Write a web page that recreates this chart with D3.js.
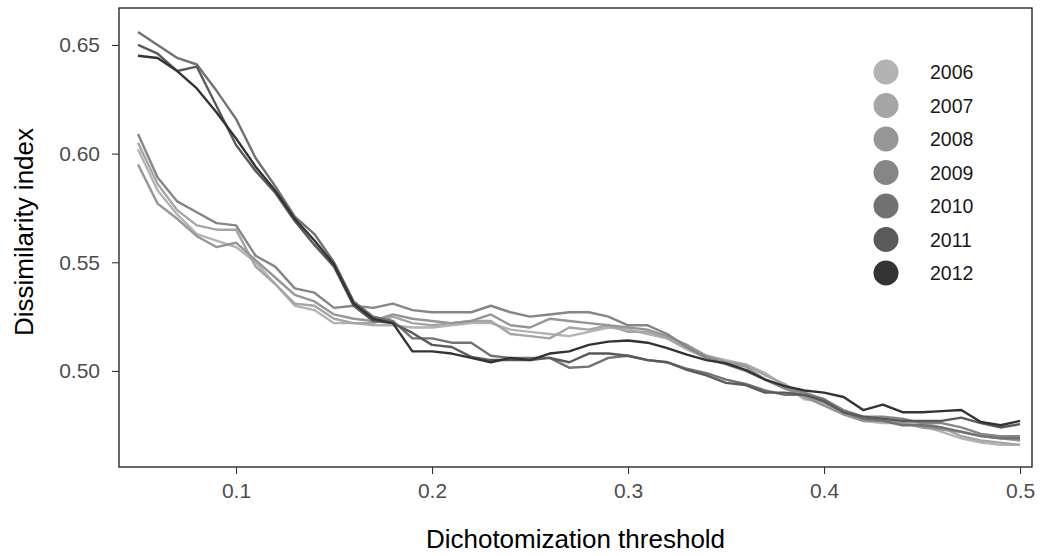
<!DOCTYPE html>
<html>
<head>
<meta charset="utf-8">
<script src="https://cdn.jsdelivr.net/npm/d3@7"></script>
<style>
  body { margin: 0; background: #fff; }
  text { font-family: "Liberation Sans", Arial, sans-serif; }
</style>
</head>
<body>
<svg id="chart" width="1043" height="556"></svg>
<script>
// thresholds 0.05 .. 0.50
const thresholds = d3.range(46).map(i => +(0.05 + i * 0.01).toFixed(2));

const years = ["2006", "2007", "2008", "2009", "2010", "2011", "2012"];
const colors = ["#b3b3b3", "#a5a5a5", "#969696", "#868686", "#727272", "#5a5a5a", "#333333"];

const y2006 = [0.602,0.583,0.572,0.563,0.560,0.557,0.550,0.540,0.530,0.528,0.522,0.522,0.521,0.521,0.520,0.520,0.521,0.522,0.522,0.519,0.518,0.517,0.516,0.518,0.520,0.519,0.517,0.515,0.511,0.507,0.505,0.503,0.499,0.493,0.487,0.486,0.480,0.477,0.476,0.476,0.475,0.472,0.469,0.467,0.466,0.466];
const y2007 = [0.605,0.586,0.574,0.567,0.565,0.565,0.548,0.540,0.531,0.530,0.524,0.522,0.522,0.525,0.522,0.521,0.522,0.523,0.523,0.517,0.516,0.515,0.520,0.519,0.521,0.518,0.518,0.515,0.510,0.506,0.504,0.503,0.498,0.494,0.488,0.485,0.481,0.478,0.477,0.477,0.476,0.474,0.470,0.468,0.467,0.466];
const y2008 = [0.595,0.577,0.570,0.562,0.557,0.559,0.551,0.543,0.535,0.532,0.526,0.524,0.523,0.526,0.524,0.523,0.522,0.523,0.526,0.521,0.520,0.524,0.523,0.522,0.521,0.520,0.519,0.516,0.512,0.507,0.504,0.502,0.496,0.492,0.488,0.484,0.480,0.477,0.477,0.476,0.474,0.473,0.472,0.470,0.469,0.468];
const y2009 = [0.609,0.589,0.578,0.573,0.568,0.567,0.553,0.548,0.538,0.536,0.529,0.530,0.529,0.531,0.528,0.527,0.527,0.527,0.530,0.527,0.525,0.526,0.527,0.527,0.525,0.521,0.521,0.517,0.511,0.506,0.503,0.500,0.496,0.492,0.490,0.487,0.482,0.479,0.479,0.478,0.476,0.476,0.474,0.471,0.470,0.470];
const y2010 = [0.656,0.650,0.644,0.641,0.629,0.616,0.598,0.585,0.571,0.563,0.550,0.532,0.525,0.523,0.515,0.515,0.513,0.513,0.507,0.506,0.506,0.506,0.5015,0.502,0.506,0.507,0.505,0.504,0.501,0.499,0.496,0.494,0.491,0.489,0.489,0.487,0.481,0.478,0.477,0.475,0.475,0.474,0.472,0.470,0.469,0.469];
const y2011 = [0.650,0.646,0.638,0.640,0.622,0.604,0.592,0.582,0.569,0.558,0.548,0.530,0.523,0.522,0.5175,0.512,0.511,0.5065,0.505,0.505,0.505,0.506,0.504,0.508,0.508,0.507,0.505,0.504,0.5005,0.498,0.4945,0.4935,0.490,0.490,0.489,0.486,0.481,0.479,0.478,0.477,0.477,0.477,0.4785,0.476,0.474,0.4755];
const y2012 = [0.645,0.644,0.638,0.630,0.619,0.607,0.594,0.583,0.570,0.560,0.549,0.531,0.524,0.522,0.509,0.509,0.508,0.506,0.504,0.506,0.505,0.508,0.509,0.512,0.5135,0.514,0.513,0.5105,0.5075,0.505,0.5035,0.5005,0.496,0.493,0.491,0.490,0.488,0.482,0.4845,0.481,0.481,0.4815,0.482,0.4765,0.475,0.477];

const seriesValues = [y2006, y2007, y2008, y2009, y2010, y2011, y2012];
const xTicks = [0.1, 0.2, 0.3, 0.4, 0.5];
const yTicks = [0.50, 0.55, 0.60, 0.65];

const svg = d3.select("#chart");
const panel = {left: 119, right: 1032, top: 8, bottom: 467};

let x = d3.scaleLinear().domain([0.0403, 0.5061]).range([panel.left, panel.right]);
let y = d3.scaleLinear().domain([0.4558, 0.6670]).range([panel.bottom, panel.top]);

// lines
let line = d3.line()
    .x((d, i) => x(thresholds[i]))
    .y(d => y(d));

svg.append("g")
    .selectAll("path")
    .data(seriesValues)
    .enter()
    .append("path")
    .attr("d", d => line(d))
    .attr("fill", "none")
    .attr("stroke", (d, i) => colors[i])
    .attr("stroke-width", 2.4)
    .attr("stroke-linejoin", "round");

// panel border
svg.append("rect")
    .attr("x", panel.left)
    .attr("y", panel.top)
    .attr("width", panel.right - panel.left)
    .attr("height", panel.bottom - panel.top)
    .attr("fill", "none")
    .attr("stroke", "#1a1a1a")
    .attr("stroke-width", 1.3);

// axes
let xAxis = svg.append("g")
    .attr("transform", "translate(0," + panel.bottom + ")")
    .call(d3.axisBottom(x).tickValues(xTicks).tickSize(7).tickPadding(9).tickFormat(d3.format(".1f")));
let yAxis = svg.append("g")
    .attr("transform", "translate(" + panel.left + ",0)")
    .call(d3.axisLeft(y).tickValues(yTicks).tickSize(7).tickPadding(12).tickFormat(d3.format(".2f")));

[xAxis, yAxis].forEach(function(a){
    a.select(".domain").remove();
    a.selectAll(".tick line").attr("stroke", "#333").attr("stroke-width", 1.1);
    a.selectAll(".tick text")
        .attr("fill", "#4d4d4d")
        .style("font-size", "21px")
        .style("font-family", "'Liberation Sans', Arial, sans-serif");
});

// axis titles
svg.append("text")
    .attr("x", (panel.left + panel.right) / 2)
    .attr("y", 548)
    .attr("text-anchor", "middle")
    .style("font-size", "26px")
    .attr("fill", "#000")
    .text("Dichotomization threshold");

svg.append("text")
    .attr("transform", "translate(33,232) rotate(-90)")
    .attr("text-anchor", "middle")
    .style("font-size", "26px")
    .attr("fill", "#000")
    .text("Dissimilarity index");

// legend
let legend = svg.append("g")
    .selectAll("g")
    .data(years)
    .enter()
    .append("g")
    .attr("transform", (d, i) => "translate(886," + (72 + i * 33.5) + ")");

legend.append("circle")
    .attr("r", 12.5)
    .attr("fill", (d, i) => colors[i]);

legend.append("text")
    .attr("x", 44)
    .attr("dy", "0.36em")
    .style("font-size", "19.5px")
    .attr("fill", "#1a1a1a")
    .text(d => d);
</script>
</body>
</html>
